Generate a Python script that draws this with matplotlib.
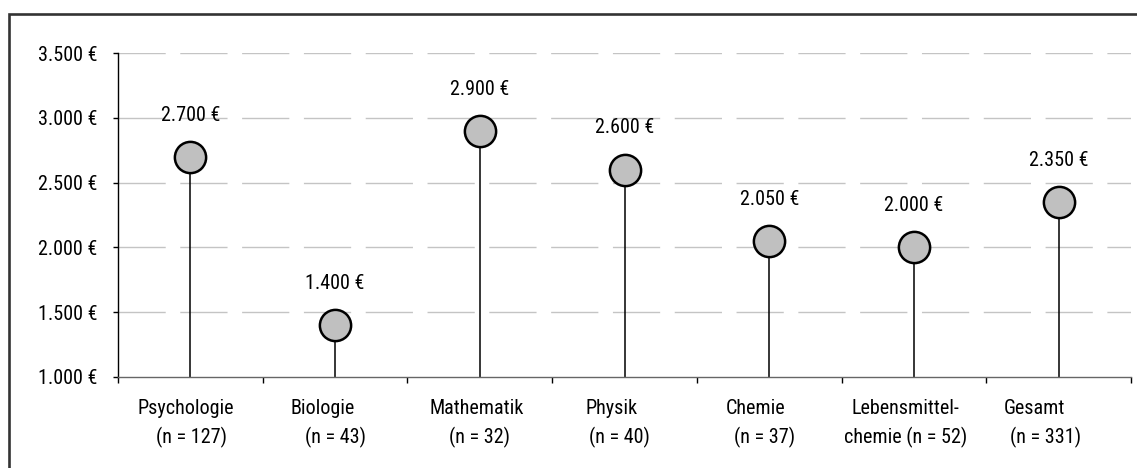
import matplotlib
matplotlib.use("Agg")
import matplotlib.pyplot as plt
import matplotlib.transforms as mtransforms
from matplotlib.patches import Rectangle
from matplotlib.ticker import FuncFormatter, MultipleLocator, FixedLocator

# Data
categories = ["Psychologie", "Biologie", "Mathematik", "Physik", "Chemie",
              "Lebensmittel-", "Gesamt"]
sample_sizes = ["(n = 127)", "(n = 43)", "(n = 32)", "(n = 40)", "(n = 37)",
                "chemie (n = 52)", "(n = 331)"]
salaries = [2700, 1400, 2900, 2600, 2050, 2000, 2350]
y_min, y_max = 1000, 3500

plt.rcParams['font.family'] = ['Roboto Condensed', 'Liberation Sans', 'DejaVu Sans']
FS = 14.5
plt.rcParams['font.size'] = FS

W, H, DPI = 1137, 468, 100
fig = plt.figure(figsize=(W / DPI, H / DPI), dpi=DPI)
fig.patch.set_facecolor('white')

# outer frame (runs off the right and bottom edges)
frame = Rectangle((8.5 / W, -0.05), 1.2, 1 - 13.8 / H + 0.05, transform=fig.transFigure,
                  fill=False, edgecolor='#333333', linewidth=1.9, clip_on=False)
fig.patches.append(frame)

ax = fig.add_axes([118 / W, 1 - 377 / H, (1131 - 118) / W, (377 - 53) / H])

def euro(v, pos=None):
    return f"{int(v):,} €".replace(",", ".")

x = list(range(len(categories)))
ax.set_xlim(-0.5, len(categories) - 0.5)
ax.set_ylim(y_min, y_max)

# grid
for v in range(1500, y_max + 1, 500):
    ax.axhline(v, color='#c4c4c4', linewidth=1.0, dashes=(34, 10.5), zorder=0)

# stems and markers
ax.vlines(x, y_min, salaries, color='black', linewidth=1.1, zorder=2)
ax.plot(x, salaries, linestyle='none', marker='o', markersize=22.5,
        markerfacecolor='#c0c0c0', markeredgecolor='black', markeredgewidth=1.8,
        zorder=3)
for xi, v in zip(x, salaries):
    ax.annotate(euro(v), (xi, v), xytext=(0, 30), textcoords='offset points',
                ha='center', va='center', fontsize=FS)

# axes styling
for s in ['top', 'right']:
    ax.spines[s].set_visible(False)
ax.spines['left'].set_color('black')
ax.spines['left'].set_linewidth(1.0)
ax.spines['bottom'].set_color('#666666')
ax.spines['bottom'].set_linewidth(1.0)

ax.yaxis.set_major_locator(MultipleLocator(500))
ax.yaxis.set_major_formatter(FuncFormatter(euro))
ax.tick_params(axis='y', direction='out', length=3.6, width=1.0, pad=11, labelsize=FS)

# category boundaries as x ticks, labels drawn separately
ax.xaxis.set_major_locator(FixedLocator([i - 0.5 for i in range(len(categories) + 1)]))
ax.xaxis.set_major_formatter(FuncFormatter(lambda v, p: ""))
ax.tick_params(axis='x', direction='out', length=4.5, width=1.0, color='black')

# two-line category labels (pixel offsets per line)
first_dx = [-5, -12, -3, -13, -14, -8, -24]
second_dx = [1, 0, 0, -5, -5, -8, -13]
base = mtransforms.blended_transform_factory(ax.transData, ax.transAxes)
for i, (c, n) in enumerate(zip(categories, sample_sizes)):
    t1 = base + mtransforms.ScaledTranslation(first_dx[i] / DPI, -31 / DPI, fig.dpi_scale_trans)
    t2 = base + mtransforms.ScaledTranslation(second_dx[i] / DPI, -60 / DPI, fig.dpi_scale_trans)
    ax.text(i, 0, c, transform=t1, ha='center', va='center', fontsize=FS)
    ax.text(i, 0, n, transform=t2, ha='center', va='center', fontsize=FS)

fig.savefig("out.png", dpi=DPI, facecolor='white')
